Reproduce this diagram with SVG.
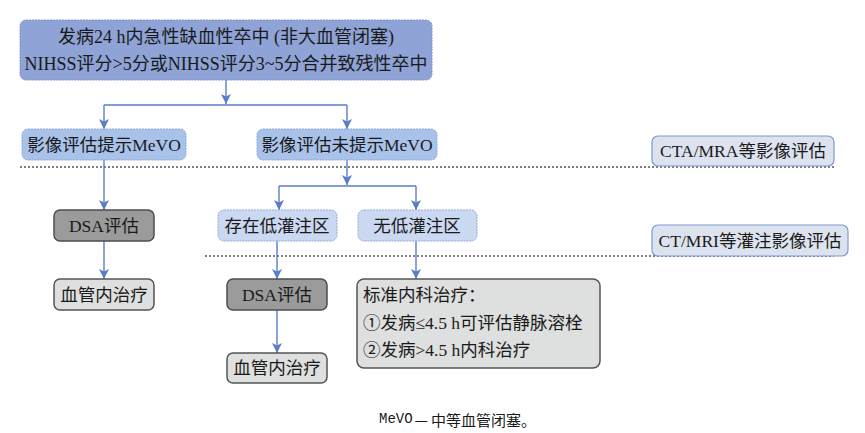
<svg xmlns="http://www.w3.org/2000/svg" width="865" height="433" viewBox="0 0 865 433">
<defs>
<marker id="ah" viewBox="0 0 10 10" refX="10" refY="5" markerWidth="10" markerHeight="10" markerUnits="userSpaceOnUse" orient="auto">
<path d="M0,0 L10,5 L0,10 L2.5,5 Z" fill="#5a7ec6"/>
</marker>
</defs>
<style>
text{font-family:"Liberation Serif","Noto Sans CJK SC",serif;font-size:17.5px;fill:#1a1a1a}
.t{text-anchor:middle;dominant-baseline:central}
.big{font-size:18px}
.b1{fill:#8fa3d6;stroke:#7d93c8;stroke-width:1;stroke-dasharray:2 1}
.b2{fill:#a9c2ea;stroke:#8aa6d8;stroke-width:1;stroke-dasharray:2 1}
.b3{fill:#cad8f1;stroke:#8fa9d9;stroke-width:1;stroke-dasharray:2 1}
.lab{fill:#dde3ee;stroke:#7d9ad0;stroke-width:1.2}
.dsa{fill:#9b9b9b;stroke:#4d4d4d;stroke-width:1.5}
.tr{fill:#dedfdf;stroke:#555;stroke-width:1.5}
.c{fill:none;stroke:#5a7ec6;stroke-width:1.4}
.a{fill:none;stroke:#5a7ec6;stroke-width:1.4;marker-end:url(#ah)}
.dl{stroke:#555;stroke-width:1.5;stroke-dasharray:2 2}
</style>
<rect width="865" height="433" fill="#fff"/>
<g id="separators">
<line class="dl" x1="20" y1="167" x2="834" y2="167"/>
<line class="dl" x1="205" y1="256" x2="834" y2="256"/>
</g>
<g id="connectors">
<line class="a" x1="226" y1="80" x2="226" y2="104"/>
<polyline class="c" points="104,105 347,105"/>
<line class="a" x1="104" y1="105" x2="104" y2="129"/>
<line class="a" x1="347" y1="105" x2="347" y2="129"/>
<line class="a" x1="104" y1="160" x2="104" y2="210"/>
<line class="a" x1="347" y1="160" x2="347" y2="185"/>
<polyline class="c" points="279,186 416,186"/>
<line class="a" x1="279" y1="186" x2="279" y2="210"/>
<line class="a" x1="416" y1="186" x2="416" y2="210"/>
<line class="a" x1="104" y1="241" x2="104" y2="279"/>
<line class="a" x1="277" y1="241" x2="277" y2="279"/>
<line class="a" x1="416" y1="241" x2="416" y2="279"/>
<line class="a" x1="277" y1="310" x2="277" y2="353"/>
</g>
<g id="top">
<rect class="b1" x="20" y="20" width="412" height="60" rx="6"/>
<text class="t big" x="226" y="37">发病24 h内急性缺血性卒中 (非大血管闭塞)</text>
<text class="t big" x="226" y="64">NIHSS评分&gt;5分或NIHSS评分3~5分合并致残性卒中</text>
</g>
<g id="mevo-yes">
<rect class="b2" x="22" y="129" width="164" height="31" rx="6"/>
<text class="t" x="104" y="145">影像评估提示MeVO</text>
</g>
<g id="mevo-no">
<rect class="b2" x="257" y="129" width="180" height="31" rx="6"/>
<text class="t" x="347" y="145">影像评估未提示MeVO</text>
</g>
<g id="label-cta">
<rect class="lab" x="652" y="136" width="182" height="30" rx="6"/>
<text class="t" x="743" y="151">CTA/MRA等影像评估</text>
</g>
<g id="dsa1">
<rect class="dsa" x="54" y="210" width="100" height="31" rx="6"/>
<text class="t" x="104" y="226">DSA评估</text>
</g>
<g id="low-perf">
<rect class="b3" x="218" y="210" width="119" height="31" rx="6"/>
<text class="t" x="277" y="226">存在低灌注区</text>
</g>
<g id="no-low-perf">
<rect class="b3" x="358" y="210" width="119" height="31" rx="6"/>
<text class="t" x="417" y="226">无低灌注区</text>
</g>
<g id="label-ct">
<rect class="lab" x="652" y="225" width="196" height="31" rx="6"/>
<text class="t" x="750" y="241">CT/MRI等灌注影像评估</text>
</g>
<g id="evt1">
<rect class="tr" x="54" y="279" width="100" height="31" rx="6"/>
<text class="t" x="104" y="295">血管内治疗</text>
</g>
<g id="dsa2">
<rect class="dsa" x="227" y="279" width="100" height="31" rx="6"/>
<text class="t" x="277" y="295">DSA评估</text>
</g>
<g id="evt2">
<rect class="tr" x="227" y="353" width="100" height="30" rx="6"/>
<text class="t" x="277" y="368">血管内治疗</text>
</g>
<g id="medical">
<rect class="tr" x="357" y="279" width="243" height="89" rx="7"/>
<text x="363" y="295" dominant-baseline="central">标准内科治疗：</text>
<text x="363" y="323" dominant-baseline="central">①发病≤4.5 h可评估静脉溶栓</text>
<text x="363" y="350" dominant-baseline="central">②发病&gt;4.5 h内科治疗</text>
</g>
<g id="caption">
<text x="379" y="419" dominant-baseline="central" style="font-family:'Liberation Mono','Noto Sans CJK SC',monospace;font-size:14px">MeVO<tspan dx="2" style="font-family:'Noto Sans CJK SC',sans-serif;font-size:15px">—</tspan><tspan dx="3" style="font-family:'Noto Sans CJK SC',sans-serif;font-size:15px">中等血管闭塞。</tspan></text>
</g>
</svg>
